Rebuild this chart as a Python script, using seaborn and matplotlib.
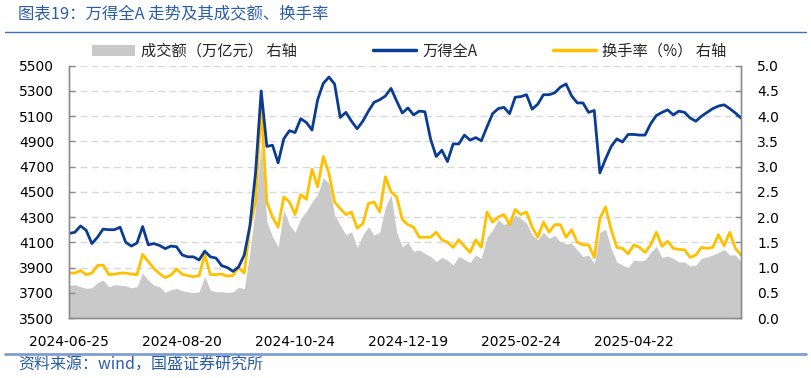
import numpy as np
import pandas as pd
import matplotlib
matplotlib.use("Agg")
import matplotlib.pyplot as plt
import seaborn as sns
from matplotlib.patches import Patch
from matplotlib.lines import Line2D

# sampled every 2 trading days, starting 2024-06-25
step = 2
tick_labels = ["2024-06-25", "2024-08-20", "2024-10-24", "2024-12-19", "2025-02-24", "2025-04-22"]
tick_days = [0, 40, 80, 120, 160, 200]

# 万得全A (left axis)
wind_a = [4170, 4180, 4230, 4195, 4090, 4140, 4205, 4200, 4200, 4220,
          4100, 4070, 4095, 4225, 4080, 4090, 4075, 4050, 4070, 4065,
          4000, 3985, 3985, 3960, 4030, 3985, 3975, 3915, 3900, 3870,
          3905, 4000, 4230, 4650, 5300, 4860, 4870, 4730, 4920, 4985,
          4970, 5080, 5050, 4990, 5230, 5360, 5410, 5355, 5090, 5130,
          5060, 5000, 5060, 5140, 5210, 5230, 5260, 5320, 5220, 5125,
          5165, 5110, 5140, 5135, 4920, 4780, 4830, 4740, 4880, 4880,
          4950, 4910, 4930, 4905, 5015, 5120, 5160, 5170, 5120, 5250,
          5255, 5270, 5155, 5195, 5270, 5270, 5285, 5330, 5355, 5260,
          5205, 5205, 5130, 5145, 4650, 4760, 4860, 4920, 4895, 4955,
          4955, 4950, 4950, 5040, 5105, 5130, 5150, 5110, 5140, 5130,
          5085, 5060, 5100, 5130, 5160, 5180, 5190, 5160, 5125, 5085]

# 换手率 % (right axis)
turnover = [0.89, 0.89, 0.94, 0.86, 0.89, 1.04, 1.05, 0.86, 0.87, 0.89,
            0.89, 0.87, 0.86, 1.26, 1.12, 0.98, 0.88, 0.80, 0.85, 0.97,
            0.87, 0.84, 0.82, 0.84, 1.25, 0.86, 0.86, 0.87, 0.83, 0.84,
            1.00, 0.89, 1.80, 2.30, 4.20, 2.30, 2.00, 1.80, 2.40, 2.30,
            2.05, 2.45, 2.35, 2.95, 2.60, 3.20, 2.87, 2.30, 2.17, 2.05,
            2.10, 1.78, 1.87, 2.27, 2.30, 2.10, 2.80, 2.50, 2.40, 1.95,
            1.85, 1.80, 1.60, 1.60, 1.60, 1.70, 1.55, 1.50, 1.40, 1.55,
            1.42, 1.30, 1.55, 1.40, 2.10, 1.90, 2.00, 2.05, 1.85, 2.15,
            2.05, 2.10, 1.80, 1.60, 1.90, 1.70, 1.85, 1.85, 1.60, 1.75,
            1.50, 1.45, 1.45, 1.20, 1.97, 2.20, 1.75, 1.40, 1.38, 1.27,
            1.45, 1.40, 1.30, 1.45, 1.70, 1.42, 1.52, 1.38, 1.36, 1.35,
            1.20, 1.25, 1.40, 1.38, 1.40, 1.65, 1.43, 1.70, 1.38, 1.25]

# 成交额 万亿元 (right axis)
amount = [0.65, 0.66, 0.62, 0.59, 0.60, 0.70, 0.75, 0.62, 0.66, 0.65,
          0.64, 0.60, 0.62, 0.89, 0.75, 0.65, 0.62, 0.51, 0.56, 0.59,
          0.54, 0.52, 0.50, 0.52, 0.82, 0.55, 0.52, 0.52, 0.50, 0.52,
          0.61, 0.58, 1.31, 2.20, 3.45, 1.91, 1.61, 1.41, 2.15, 1.85,
          1.70, 1.97, 2.11, 2.30, 2.45, 2.78, 2.67, 2.05, 1.84, 1.65,
          1.71, 1.40, 1.64, 1.81, 1.64, 1.70, 2.20, 2.44, 1.70, 1.41,
          1.50, 1.32, 1.35, 1.28, 1.22, 1.12, 1.20, 1.15, 1.05, 1.22,
          1.16, 1.10, 1.25, 1.18, 1.60, 1.75, 1.95, 1.85, 1.90, 2.04,
          1.97, 1.88, 1.65, 1.55, 1.70, 1.58, 1.64, 1.51, 1.47, 1.48,
          1.35, 1.22, 1.25, 1.08, 1.70, 1.76, 1.38, 1.11, 1.05, 1.00,
          1.15, 1.13, 1.15, 1.30, 1.42, 1.20, 1.23, 1.18, 1.11, 1.11,
          1.03, 1.05, 1.18, 1.21, 1.25, 1.30, 1.36, 1.25, 1.25, 1.12]

df = pd.DataFrame({"day": np.arange(len(wind_a)) * step,
                   "wind_a": wind_a, "turnover": turnover, "amount": amount})

sns.set_theme(style="white")
plt.rcParams["font.family"] = ["Noto Sans CJK SC", "DejaVu Sans"]

blue = "#0B3C93"
yellow = "#FFC000"
gray = "#C9C9C9"
grid_c = "#D9D9D9"
spine_c = "#8C8C8C"
text_blue = "#2A5CAA"

fig = plt.figure(figsize=(8.11, 3.78), dpi=100)
ax = fig.add_axes([0.0854, 0.1587, 0.8283, 0.6675])
ax2 = ax.twinx()

# right axis: amount area + turnover line, grid behind
ax2.fill_between(df["day"], 0, df["amount"], color=gray, linewidth=0, zorder=1)
sns.lineplot(data=df, x="day", y="turnover", ax=ax2, color=yellow, linewidth=2, zorder=2)
ax2.set_ylim(0, 5)
ax2.set_yticks(np.arange(0, 5.01, 0.5))
ax2.set_yticklabels([f"{v:.1f}" for v in np.arange(0, 5.01, 0.5)], fontfamily="DejaVu Sans")
ax2.set_axisbelow(True)
ax2.grid(True, axis="both", color=grid_c, linestyle=(0, (5, 3)), linewidth=1)
ax2.set_ylabel("")

# left axis on top: index line
ax.set_zorder(ax2.get_zorder() + 1)
ax.patch.set_visible(False)
sns.lineplot(data=df, x="day", y="wind_a", ax=ax, color=blue, linewidth=2)
ax.set_ylim(3500, 5500)
ax.set_yticks(np.arange(3500, 5501, 200))
ax.set_xlim(df["day"].min(), df["day"].max())
ax.set_xticks(tick_days)
ax.set_xticklabels(tick_labels, fontfamily="DejaVu Sans")
for lab in ax.get_yticklabels():
    lab.set_fontfamily("DejaVu Sans")
ax.set_xlabel("")
ax.set_ylabel("")
ax.grid(False)

for a in (ax, ax2):
    a.tick_params(direction="in", length=4, width=1, color=spine_c, labelsize=10,
                  labelcolor="black")
    a.spines["top"].set_visible(False)
    for s in ("left", "right", "bottom"):
        a.spines[s].set_color(spine_c)
        a.spines[s].set_linewidth(1)
ax.tick_params(axis="x", pad=12)
ax.tick_params(axis="y", pad=11)
ax2.tick_params(axis="y", pad=11.5)

# legend
handles = [Patch(facecolor=gray, edgecolor="none"),
           Line2D([], [], color=blue, linewidth=2.5),
           Line2D([], [], color=yellow, linewidth=2.5)]
labels = ["成交额（万亿元） 右轴", "万得全A", "换手率（%） 右轴"]
fig.legend(handles, labels, loc="center left", bbox_to_anchor=(92 / 811, 1 - 51 / 378),
           ncol=3, frameon=False, fontsize=11, handlelength=2.8, handletextpad=0.4,
           columnspacing=5.0, borderpad=0, borderaxespad=0)

# title, rules, source
fig.text(18 / 811, 1 - 14 / 378, "图表19：万得全A 走势及其成交额、换手率",
         color=text_blue, fontsize=11.8, style="italic", va="center", ha="left")
fig.add_artist(Line2D([5 / 811, 806 / 811], [1 - 32 / 378] * 2, color="#3F6FB6", linewidth=1))
fig.add_artist(Line2D([5 / 811, 806 / 811], [1 - 353.5 / 378] * 2, color="#7F9ED0", linewidth=2))
fig.text(18 / 811, 1 - 365 / 378, "资料来源：wind，国盛证券研究所",
         color=text_blue, fontsize=11.5, style="italic", va="center", ha="left")

fig.savefig("out.png", dpi=100)
